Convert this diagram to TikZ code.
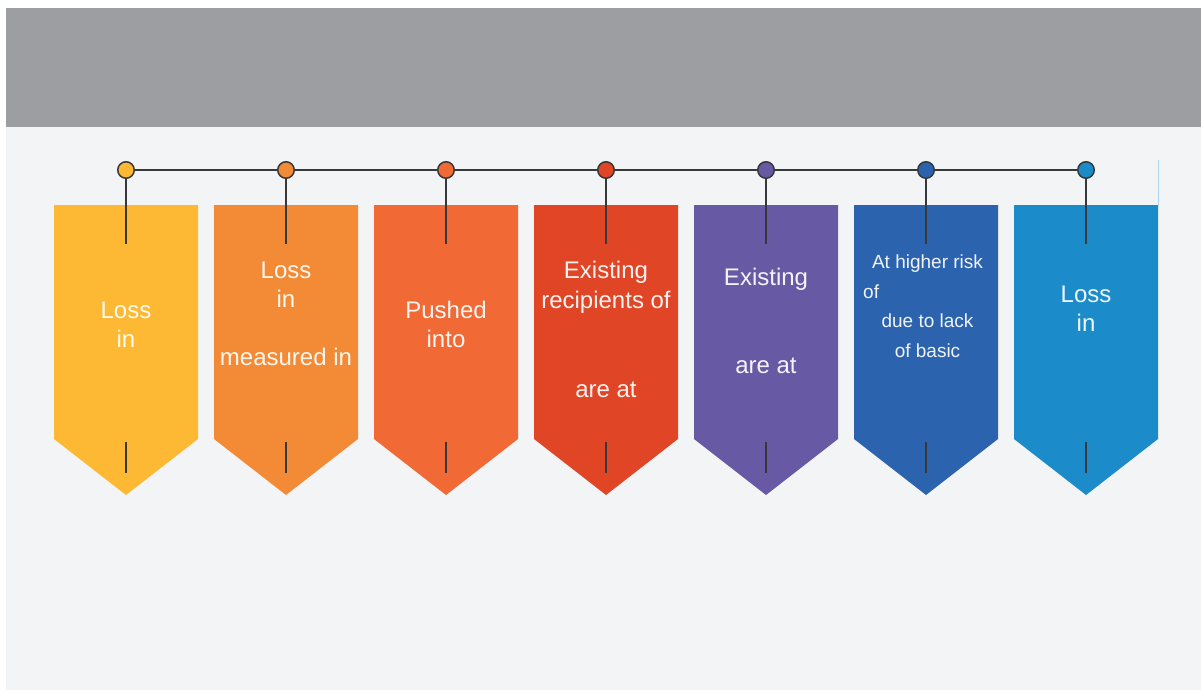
\documentclass[tikz,border=0pt]{standalone}
\usepackage{fontspec}
\setmainfont{Liberation Sans}
\definecolor{bandgray}{HTML}{9D9EA2}
\definecolor{panel}{HTML}{F3F4F6}
\definecolor{wire}{HTML}{38383A}
\definecolor{edgeblue}{HTML}{A9D5EE}
\definecolor{colA}{HTML}{FDB933}
\definecolor{colB}{HTML}{F38B36}
\definecolor{colC}{HTML}{F16A35}
\definecolor{colD}{HTML}{E04526}
\definecolor{colE}{HTML}{6859A4}
\definecolor{colF}{HTML}{2C63AE}
\definecolor{colG}{HTML}{1B8BC9}
\tikzset{
  pin/.style={circle, draw=wire, line width=1.5pt, minimum size=16.5pt, inner sep=0pt},
  wireline/.style={draw=wire, line width=1.8pt},
  lbl/.style={text=white, text opacity=0.93, inner sep=0pt, anchor=base, font=\fontsize{24}{29}\selectfont},
  lblsmall/.style={lbl, font=\fontsize{19}{24}\selectfont},
}
\begin{document}
\begin{tikzpicture}[x=1pt,y=-1pt]
\useasboundingbox (0,0) rectangle (1201,690);
\fill[white] (0,0) rectangle (1201,690);
\fill[panel] (6,127) rectangle (1201,689.5);
\fill[bandgray] (6,8) rectangle (1201,127);
\draw[edgeblue, line width=0.8pt] (1158,160) -- (1158,205);
% banners
\foreach \i/\c/\x in {1/colA/126,2/colB/286,3/colC/446,4/colD/606,5/colE/766,6/colF/926,7/colG/1086}{
  \fill[\c] (\x-72,205) -- (\x+72,205) -- (\x+72,439) -- (\x,495) -- (\x-72,439) -- cycle;
  \coordinate (t\i) at (\x,244);
  \coordinate (ba\i) at (\x,442);
  \coordinate (bb\i) at (\x,473);
  \node[pin, fill=\c] (p\i) at (\x,170) {};
}
% connectors
\foreach \i [evaluate=\i as \j using int(\i+1)] in {1,...,6}{
  \draw[wireline] (p\i) -- (p\j);
}
\foreach \i in {1,...,7}{
  \draw[wireline] (p\i) -- (t\i);
  \draw[wireline] (ba\i) -- (bb\i);
}
% texts
\node[lbl] (a1) at (126,318) {Loss};
\node[lbl] (a2) at (126,347) {in};
\node[lbl] (b1) at (286,278) {Loss};
\node[lbl] (b2) at (286,307) {in};
\node[lbl] (b3) at (286,365) {measured in};
\node[lbl] (c1) at (446,318) {Pushed};
\node[lbl] (c2) at (446,347) {into};
\node[lbl] (d1) at (606,278) {Existing};
\node[lbl] (d2) at (606,308) {recipients of};
\node[lbl] (d3) at (606,397) {are at};
\node[lbl] (e1) at (766,285) {Existing};
\node[lbl] (e2) at (766,373) {are at};
\node[lblsmall] (f1) at (927.5,268) {At higher risk};
\node[lblsmall, anchor=base west] (f2) at (863,298) {of};
\node[lblsmall] (f3) at (927.5,327) {due to lack};
\node[lblsmall] (f4) at (927.5,357) {of basic};
\node[lbl] (g1) at (1086,302) {Loss};
\node[lbl] (g2) at (1086,331) {in};
\end{tikzpicture}
\end{document}
